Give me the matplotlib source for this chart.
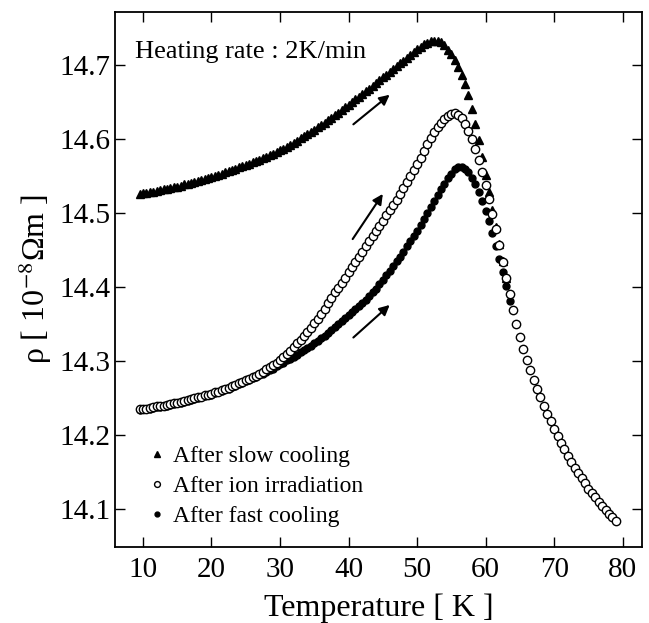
import matplotlib
matplotlib.use("Agg")
import matplotlib.pyplot as plt
import numpy as np

plt.rcParams['font.family'] = ['Liberation Serif', 'DejaVu Serif']
plt.rcParams['mathtext.fontset'] = 'stix'

# Temperature grid (K) shared by the three runs
temperature = [
    9.5, 10.0, 10.5, 11.0, 11.5, 12.0, 12.5, 13.0, 13.5, 14.0, 14.5, 15.0, 15.5, 16.0, 16.5,
    17.0, 17.5, 18.0, 18.5, 19.0, 19.5, 20.0, 20.5, 21.0, 21.5, 22.0, 22.5, 23.0, 23.5, 24.0,
    24.5, 25.0, 25.5, 26.0, 26.5, 27.0, 27.5, 28.0, 28.5, 29.0, 29.5, 30.0, 30.5, 31.0, 31.5,
    32.0, 32.5, 33.0, 33.5, 34.0, 34.5, 35.0, 35.5, 36.0, 36.5, 37.0, 37.5, 38.0, 38.5, 39.0,
    39.5, 40.0, 40.5, 41.0, 41.5, 42.0, 42.5, 43.0, 43.5, 44.0, 44.5, 45.0, 45.5, 46.0, 46.5,
    47.0, 47.5, 48.0, 48.5, 49.0, 49.5, 50.0, 50.5, 51.0, 51.5, 52.0, 52.5, 53.0, 53.5, 54.0,
    54.5, 55.0, 55.5, 56.0, 56.5, 57.0, 57.5, 58.0, 58.5, 59.0, 59.5, 60.0, 60.5, 61.0, 61.5,
    62.0, 62.5, 63.0, 63.5, 64.0, 64.5, 65.0, 65.5, 66.0, 66.5, 67.0, 67.5, 68.0, 68.5, 69.0,
    69.5, 70.0, 70.5, 71.0, 71.5, 72.0, 72.5, 73.0, 73.5, 74.0, 74.5, 75.0, 75.5, 76.0, 76.5,
    77.0, 77.5, 78.0, 78.5, 79.0,
]

# After slow cooling (9.5 K .. 63 K)
rho_slow = [
    14.526, 14.527, 14.527, 14.528, 14.529, 14.530, 14.531, 14.532, 14.533, 14.534, 14.535,
    14.536, 14.537, 14.539, 14.540, 14.541, 14.542, 14.544, 14.545, 14.546, 14.548, 14.549,
    14.550, 14.552, 14.553, 14.555, 14.557, 14.558, 14.560, 14.562, 14.564, 14.565, 14.567,
    14.569, 14.571, 14.572, 14.574, 14.576, 14.578, 14.580, 14.583, 14.585, 14.587, 14.590,
    14.592, 14.595, 14.598, 14.601, 14.604, 14.607, 14.610, 14.613, 14.616, 14.619, 14.622,
    14.626, 14.629, 14.632, 14.636, 14.639, 14.643, 14.646, 14.650, 14.654, 14.657, 14.661,
    14.665, 14.668, 14.672, 14.676, 14.680, 14.684, 14.687, 14.691, 14.695, 14.699, 14.703,
    14.706, 14.710, 14.714, 14.718, 14.722, 14.725, 14.728, 14.730, 14.732, 14.733, 14.733,
    14.731, 14.727, 14.721, 14.715, 14.707, 14.698, 14.687, 14.674, 14.659, 14.641, 14.621,
    14.599, 14.576, 14.552, 14.528, 14.504, 14.481, 14.458, 14.436, 14.413,
]

# After ion irradiation (9.5 K .. 79 K)
rho_ion = [
    14.235, 14.236, 14.236, 14.237, 14.238, 14.239, 14.239, 14.240, 14.241, 14.242, 14.243,
    14.244, 14.245, 14.246, 14.247, 14.249, 14.250, 14.251, 14.252, 14.254, 14.255, 14.256,
    14.258, 14.259, 14.261, 14.263, 14.264, 14.266, 14.268, 14.270, 14.272, 14.274, 14.276,
    14.278, 14.280, 14.283, 14.286, 14.289, 14.292, 14.295, 14.298, 14.302, 14.306, 14.310,
    14.314, 14.319, 14.324, 14.329, 14.334, 14.339, 14.345, 14.351, 14.357, 14.364, 14.371,
    14.378, 14.385, 14.393, 14.399, 14.406, 14.413, 14.420, 14.427, 14.434, 14.441, 14.448,
    14.455, 14.462, 14.469, 14.476, 14.483, 14.490, 14.497, 14.504, 14.511, 14.518, 14.526,
    14.534, 14.542, 14.550, 14.558, 14.566, 14.575, 14.584, 14.593, 14.601, 14.609, 14.616,
    14.622, 14.627, 14.631, 14.634, 14.635, 14.633, 14.628, 14.620, 14.611, 14.600, 14.587,
    14.572, 14.556, 14.538, 14.519, 14.499, 14.478, 14.457, 14.434, 14.412, 14.391, 14.369,
    14.350, 14.333, 14.317, 14.302, 14.288, 14.274, 14.262, 14.251, 14.240, 14.229, 14.219,
    14.209, 14.199, 14.190, 14.181, 14.172, 14.164, 14.156, 14.149, 14.142, 14.135, 14.128,
    14.122, 14.116, 14.110, 14.104, 14.099, 14.094, 14.089, 14.084,
]

# After fast cooling (9.5 K .. 63.5 K)
rho_fast = [
    14.234, 14.235, 14.235, 14.236, 14.237, 14.238, 14.238, 14.239, 14.240, 14.241, 14.242,
    14.243, 14.244, 14.245, 14.246, 14.248, 14.249, 14.250, 14.251, 14.253, 14.254, 14.255,
    14.257, 14.258, 14.260, 14.262, 14.263, 14.265, 14.267, 14.269, 14.271, 14.273, 14.275,
    14.277, 14.279, 14.281, 14.283, 14.285, 14.288, 14.290, 14.293, 14.296, 14.298, 14.301,
    14.303, 14.306, 14.309, 14.312, 14.315, 14.318, 14.321, 14.324, 14.327, 14.331, 14.334,
    14.338, 14.342, 14.346, 14.350, 14.354, 14.358, 14.362, 14.366, 14.370, 14.374, 14.379,
    14.383, 14.388, 14.393, 14.398, 14.404, 14.410, 14.416, 14.422, 14.428, 14.435, 14.441,
    14.448, 14.455, 14.462, 14.469, 14.476, 14.484, 14.492, 14.500, 14.508, 14.516, 14.524,
    14.532, 14.540, 14.547, 14.553, 14.559, 14.562, 14.563, 14.560, 14.555, 14.548, 14.539,
    14.528, 14.516, 14.503, 14.489, 14.473, 14.456, 14.438, 14.420, 14.401, 14.382,
]

labels = ["After slow cooling", "After ion irradiation", "After fast cooling"]
x_ticks = [10, 20, 30, 40, 50, 60, 70, 80]
y_ticks = [14.1, 14.2, 14.3, 14.4, 14.5, 14.6, 14.7]

# Heating-direction arrows: (tail T, tail rho, head T, head rho)
arrows = [
    (40.7, 14.620, 46.0, 14.660),
    (40.6, 14.465, 45.0, 14.526),
    (40.7, 14.332, 46.0, 14.376),
]

fig = plt.figure(figsize=(6.49, 6.23), dpi=100)
ax = fig.add_axes([0.177, 0.122, 0.812, 0.859])

T = np.array(temperature)
ax.plot(T[:len(rho_slow)], rho_slow, linestyle='none', marker='^', ms=5.5,
        color='black', mec='black', label=labels[0], zorder=2)
ax.plot(T, rho_ion, linestyle='none', marker='o', ms=6, mfc='white',
        mec='black', mew=1.0, label=labels[1], zorder=4)
ax.plot(T[:len(rho_fast)], rho_fast, linestyle='none', marker='o', ms=5,
        color='black', label=labels[2], zorder=3)

for (x0, y0, x1, y1) in arrows:
    ax.annotate("", xy=(x1, y1), xytext=(x0, y0),
                arrowprops=dict(arrowstyle='-|>', color='black', lw=1.5,
                                mutation_scale=15, shrinkA=0, shrinkB=0))

ax.set_xlim(5.9, 82.8)
ax.set_ylim(14.049, 14.772)
ax.set_xticks(x_ticks)
ax.set_yticks(y_ticks)
ax.set_yticklabels([f"{v:.1f}" for v in y_ticks])
ax.tick_params(direction='in', top=True, right=True, length=7, width=1,
               labelsize=21, colors='black')
ax.tick_params(axis='x', pad=7)
ax.tick_params(axis='y', pad=3)
for s in ax.spines.values():
    s.set_linewidth(1.3)

ax.set_xlabel("Temperature [ K ]", fontsize=23, labelpad=8)
ax.set_ylabel(r"ρ [ 10$^{-8}$Ωm ]", fontsize=23, labelpad=4)

ax.text(0.038, 0.913, "Heating rate : 2K/min", transform=ax.transAxes,
        fontsize=19, ha='left', va='baseline')

handles, labs = ax.get_legend_handles_labels()
leg = ax.legend(handles, labs,
                loc='lower left', bbox_to_anchor=(0.066, 0.037),
                frameon=False, fontsize=17, handlelength=0.6,
                handletextpad=0.4, labelspacing=0.36, borderpad=0,
                borderaxespad=0, markerscale=0.7)

fig.savefig("out.png", dpi=100)
